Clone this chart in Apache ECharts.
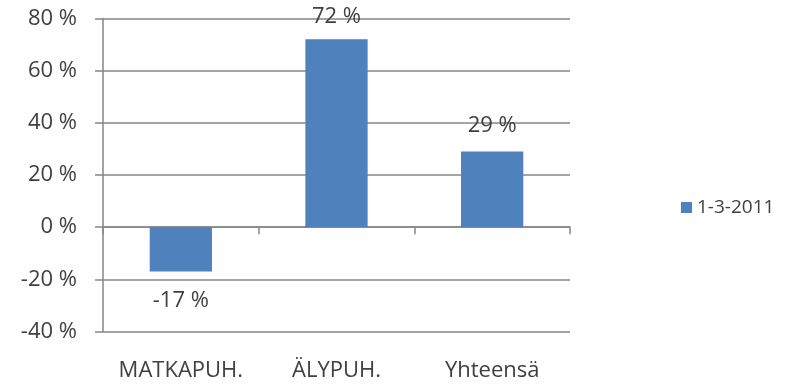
<!DOCTYPE html>
<html>
<head>
<meta charset="utf-8">
<script src="https://cdn.jsdelivr.net/npm/echarts@6/dist/echarts.min.js"></script>
<style>
  html, body { margin: 0; padding: 0; background: #fff; }
  #chart { width: 787px; height: 386px; }
</style>
</head>
<body>
<div id="chart"></div>
<script>
// Change in sales by product group
const categories = ['MATKAPUH.', 'ÄLYPUH.', 'Yhteensä'];
const seriesName = '1-3-2011';
const values = [-17, 72, 29];
const yTicks = { min: -40, max: 80, step: 20 };

const textColor = '#404040';
const axisColor = '#868686';
const barColor = '#4F81BD';
const font = 'Open Sans';
// gap between each bar end and its value label
const labelGap = [18, 12, 15];

const chart = echarts.init(document.getElementById('chart'));

chart.setOption({
  animation: false,
  textStyle: { fontFamily: font },
  grid: { left: 103, right: 217, top: 18.5, bottom: 54.5 },
  legend: {
    data: [seriesName],
    orient: 'vertical',
    left: 681, top: 198,
    padding: 0,
    itemWidth: 11, itemHeight: 11, itemGap: 6,
    icon: 'rect',
    textStyle: { color: textColor, fontSize: 19, fontFamily: font, padding: [0, 0, 0, 0] }
  },
  xAxis: [
    {
      type: 'category',
      data: categories,
      position: 'bottom',
      axisLine: { show: false, onZero: false },
      axisTick: { show: false },
      axisLabel: { color: textColor, fontSize: 22, margin: 28, interval: 0, hideOverlap: false }
    },
    {
      type: 'category',
      data: categories,
      position: 'bottom',
      axisLine: { show: true, onZero: true, lineStyle: { color: axisColor, width: 1.5 } },
      axisTick: { show: true, length: 7, lineStyle: { color: axisColor, width: 1.5 } },
      axisLabel: { show: false }
    }
  ],
  yAxis: {
    type: 'value',
    min: yTicks.min, max: yTicks.max, interval: yTicks.step,
    axisLine: { show: true, lineStyle: { color: axisColor, width: 1.5 } },
    axisTick: { show: true, length: 8, lineStyle: { color: axisColor, width: 1.5 } },
    splitLine: { lineStyle: { color: axisColor, width: 1.5 } },
    axisLabel: { color: textColor, fontSize: 22, margin: 26, formatter: '{value} %' }
  },
  series: [{
    name: seriesName,
    type: 'bar',
    xAxisIndex: 0,
    barWidth: '40%',
    itemStyle: { color: barColor },
    data: values.map((v, i) => ({
      value: v,
      label: {
        position: v < 0 ? 'bottom' : 'top',
        distance: labelGap[i]
      }
    })),
    label: {
      show: true,
      color: textColor,
      fontSize: 22,
      formatter: p => p.value + ' %'
    }
  }]
});
</script>
</body>
</html>
